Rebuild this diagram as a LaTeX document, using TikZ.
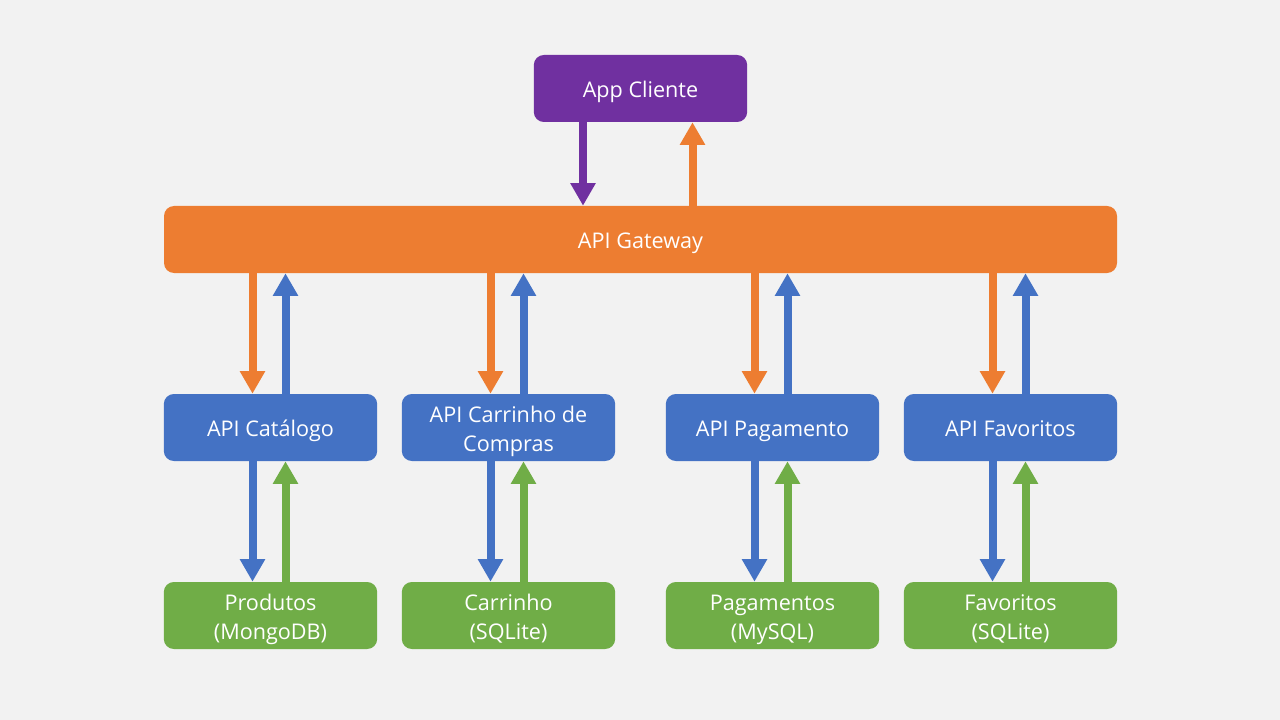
\documentclass[tikz,border=0pt]{standalone}
\usepackage{fontspec}
\setmainfont{Open Sans}
\usetikzlibrary{arrows.meta,calc}
\definecolor{fundo}{HTML}{F2F2F2}
\definecolor{roxo}{HTML}{7030A0}
\definecolor{laranja}{HTML}{ED7D31}
\definecolor{azul}{HTML}{4472C4}
\definecolor{verde}{HTML}{70AD47}
\newcommand{\topo}{\rule{0pt}{20.5pt}}
\begin{document}
\begin{tikzpicture}[x=0.75pt,y=-0.75pt,
  caixa/.style={fill=#1,text=white,rounded corners=7.5pt,minimum width=160pt,minimum height=50.25pt,
    align=center,inner sep=0pt,font=\fontsize{16.2}{21.75}\selectfont,
    execute at begin node=\rule[-6.5pt]{0pt}{26.2pt},execute at end node=\strut},
  seta/.style={draw=#1,line width=6pt,-{Triangle[width=18pt,length=17pt]}}]
\fill[fundo] (0,0) rectangle (1280,720);
\node[caixa=roxo] (cliente) at (640.5,88.5) {App Cliente};
\node[caixa=laranja,minimum width=714.75pt] (gateway) at (640.5,239.5) {API Gateway};
\node[caixa=azul] (catalogo) at (270.5,427.5) {API Catálogo};
\node[caixa=azul] (carrinho) at (508.5,427.5) {\topo API Carrinho de\\Compras};
\node[caixa=azul] (pagamento) at (772.5,427.5) {API Pagamento};
\node[caixa=azul] (favoritos) at (1010.5,427.5) {API Favoritos};
\node[caixa=verde] (produtos) at (270.5,615.5) {\topo Produtos\\(MongoDB)};
\node[caixa=verde] (dbcarrinho) at (508.5,615.5) {\topo Carrinho\\(SQLite)};
\node[caixa=verde] (dbpagamento) at (772.5,615.5) {\topo Pagamentos\\(MySQL)};
\node[caixa=verde] (dbfavoritos) at (1010.5,615.5) {\topo Favoritos\\(SQLite)};
% cliente <-> gateway
\draw[seta=roxo] ($(cliente.south)+(-57.5,0)$) -- ($(cliente.south|-gateway.north)+(-57.5,0)$);
\draw[seta=laranja] ($(cliente.south|-gateway.north)+(52,0)$) -- ($(cliente.south)+(52,0)$);
% gateway <-> apis <-> bancos
\foreach \api/\db in {catalogo/produtos,carrinho/dbcarrinho,pagamento/dbpagamento,favoritos/dbfavoritos}{
  \draw[seta=laranja] ($(\api.north|-gateway.south)+(-18,0)$) -- ($(\api.north)+(-18,0)$);
  \draw[seta=azul] ($(\api.north)+(15,0)$) -- ($(\api.north|-gateway.south)+(15,0)$);
  \draw[seta=azul] ($(\api.south)+(-18,0)$) -- ($(\db.north)+(-18,0)$);
  \draw[seta=verde] ($(\db.north)+(15,0)$) -- ($(\api.south)+(15,0)$);
}
\end{tikzpicture}
\end{document}
